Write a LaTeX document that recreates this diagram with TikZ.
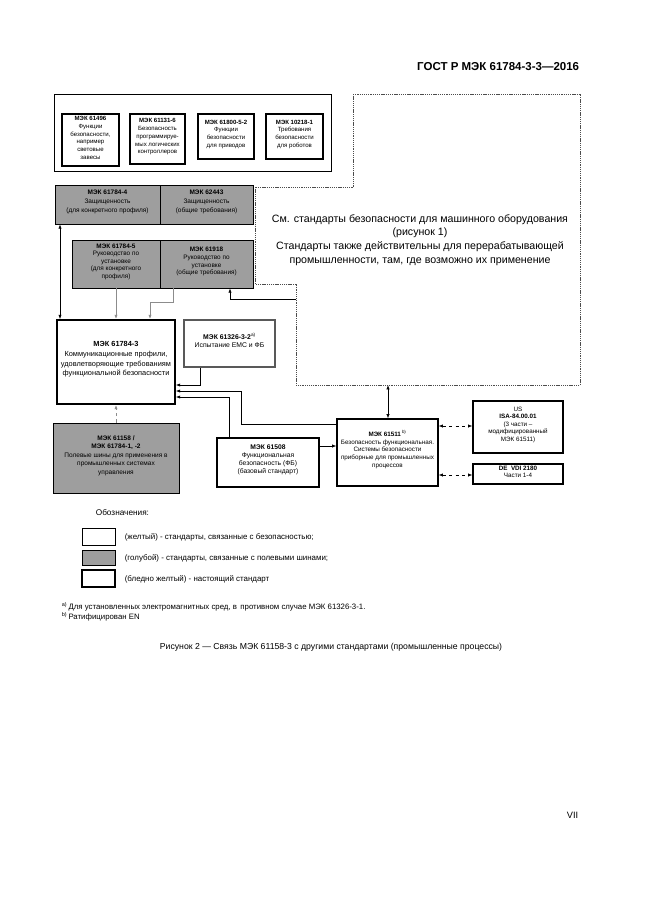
\documentclass[tikz,border=0pt]{standalone}
\usepackage{fontspec}
\setmainfont{Liberation Sans}
\usetikzlibrary{arrows.meta,fit,calc}
\definecolor{fb}{gray}{0.62}
\newcommand\fsz[2]{\fontsize{#1}{#2}\selectfont}
\begin{document}
\begin{tikzpicture}[x=0.9215pt,y=-0.9215pt,
  box/.style={draw,inner sep=0pt,align=center,line width=0.6pt},
  topbox/.style={box,line width=1.1pt,font=\fsz{5.6}{7.2}},
  fbbox/.style={box,fill=fb,font=\fsz{6}{8.2}},
  mainbox/.style={box,line width=1.6pt,font=\fsz{6.8}{8.8}},
  smallbox/.style={box,line width=1pt,font=\fsz{5.8}{7}},
  dashreg/.style={draw=black!70,line width=0.5pt,dash pattern=on 1.2pt off 0.8pt},
  conn/.style={line width=0.6pt},
  gconn/.style={line width=0.8pt,draw=black!45},
  tip/.style={-{Latex[length=4pt,width=3pt]}},
  btip/.style={{Latex[length=4pt,width=3pt]}-{Latex[length=4pt,width=3pt]}},
  legtxt/.style={anchor=west,font=\fsz{7.3}{8.5}},
]
\useasboundingbox[fill=white] (0,0) rectangle (646,913);

% header and page number
\node[anchor=east,font=\bfseries\fsz{10.6}{12}] (hdr) at (583,67) {ГОСТ Р МЭК 61784-3-3—2016};
\node[anchor=east,font=\fsz{8.5}{10}] (pg) at (582,815) {VII};

% top group
\node[box,line width=0.8pt,fit={(54,94)(331,171)}] (topgrp) {};
\node[topbox,fit={(62,114)(119,166)}] (t1) {\textbf{МЭК 61496}\\Функции\\безопасности,\\например\\световые\\завесы};
\node[topbox,fit={(130,114)(185,164)}] (t2) {\textbf{МЭК 61131-6}\\Безопасность\\программируе-\\мых логических\\контроллеров};
\node[topbox,fit={(198,114)(254,159)}] (t3) {\textbf{МЭК 61800-5-2}\\Функции\\безопасности\\для приводов};
\node[topbox,fit={(266,114)(323,159)}] (t4) {\textbf{МЭК 10218-1}\\Требования\\безопасности\\для роботов};

% dashed region
\draw[dashreg] (353,94) -- (580,94) -- (580,385) -- (296,385) -- (296,284) -- (255,284) -- (255,187) -- (353,187) -- cycle;
\node[align=center,font=\fsz{9.8}{12.6}] (see) at (420,240) {См. стандарты безопасности для машинного оборудования\\(рисунок 1)\\Стандарты также действительны для перерабатывающей\\промышленности, там, где возможно их применение};
\coordinate (dregL) at (296,299);
\coordinate (dregB) at (388,385);

% field-bus boxes
\node[fbbox,fit={(55,185)(160,224)}] (m4l) {\textbf{МЭК 61784-4}\\Защищенность\\(для конкретного профиля)};
\node[fbbox,fit={(160,185)(253,224)}] (m4r) {\textbf{МЭК 62443}\\Защищенность\\(общие требования)};
\node[fbbox,fit={(72,240)(160,288)},font=\fsz{5.9}{7}] (m5l) {\textbf{МЭК 61784-5}\\Руководство по\\установке\\(для конкретного\\профиля)};
\node[fbbox,fit={(160,240)(253,288)},font=\fsz{5.9}{7}] (m5r) {\textbf{МЭК 61918}\\Руководство по\\установке\\(общие требования)};

% main
\node[mainbox,fit={(57,320)(175,404)}] (main) {\textbf{МЭК 61784-3}\\Коммуникационные профили,\\удовлетворяющие требованиям\\функциональной безопасности\\[8pt]};
\node[smallbox,draw=black!65,line width=1.2pt,fit={(184,320)(275,367)},font=\fsz{6.3}{8}] (emc) {\textbf{МЭК 61326-3-2}\textsuperscript{a)}\\Испытание ЕМС и ФБ};

\node[fbbox,fit={(53,423)(179,493)},font=\fsz{6}{7.8}] (fb58) {\textbf{МЭК 61158 /}\\\textbf{МЭК 61784-1, -2}\\Полевые шины для применения в\\промышленных системах\\управления};

\node[smallbox,fit={(217,438)(319,487)},font=\fsz{6.2}{7.4}] (s08) {\textbf{МЭК 61508}\\Функциональная\\безопасность (ФБ)\\(базовый стандарт)\\[3pt]};
\node[smallbox,fit={(337,419)(438,486)}] (s11) {\textbf{МЭК 61511}\,\textsuperscript{b)}\\Безопасность функциональная.\\Системы безопасности\\приборные для промышленных\\процессов\\[6pt]};
\node[smallbox,fit={(473,401)(563,453)}] (us) {US\\\textbf{ISA-84.00.01}\\(3 части –\\модифицированный\\МЭК 61511)};
\node[smallbox,fit={(473,464)(563,484)}] (de) {\textbf{DE\ \ VDI 2180}\\Части 1-4};

% connectors
\coordinate (xa) at (60,0);
\coordinate (xb) at (116,0);
\draw[conn,btip] (m4l.south -| xa) -- (main.north -| xa);
\draw[gconn,tip] (m5l.south -| xb) -- (main.north -| xb);
\draw[gconn,tip] (m5r.south -| 173,0) -- (173,302) -- (150,302) -- (main.north -| 150,0);
\draw[conn,tip] (dregL) -- (230,299) -- (m5r.south -| 230,0);
\draw[conn,tip] (emc.south -| 200,0) -- (200,385) -- (main.east |- 0,385);
\draw[conn,tip] (s11.west |- 0,424) -- (241,424) -- (241,391) -- (main.east |- 0,391);
\draw[conn,tip] (s08.north -| 229,0) -- (229,397) -- (main.east |- 0,397);
\draw[gconn,dashed,tip] (fb58.north -| xb) -- (main.south -| xb);
\draw[conn,btip] (dregB) -- (s11.north -| dregB);
\draw[conn,tip] (s08.east |- 0,446) -- (s11.west |- 0,446);
\draw[conn,btip,dashed] (s11.east |- 0,426) -- (us.west |- 0,426);
\draw[conn,btip,dashed] (s11.east |- 0,475) -- (de.west |- 0,475);

% legend
\node[anchor=west,font=\fsz{7.6}{8.5}] (legh) at (92,513) {Обозначения:};
\node[box,line width=0.9pt,fit={(82,528)(115,545)}] (l1) {};
\node[box,fill=fb,fit={(82,550)(115,565)}] (l2) {};
\node[box,line width=1.4pt,fit={(82,570)(115,587)}] (l3) {};
\node[legtxt] (l1t) at (121,537) {(желтый) - стандарты, связанные с безопасностью;};
\node[legtxt] (l2t) at (121,558) {(голубой) - стандарты, связанные с полевыми шинами;};
\node[legtxt] (l3t) at (121,579) {(бледно желтый) - настоящий стандарт};

% footnotes
\node[anchor=west,font=\fsz{7.2}{8}] (fn1) at (58,607) {\textsuperscript{a)}\,Для установленных электромагнитных сред, в\, противном случае МЭК 61326-3-1.};
\node[anchor=west,font=\fsz{7.2}{8}] (fn2) at (58,617) {\textsuperscript{b)}\,Ратифицирован EN};

% caption
\node[font=\fsz{8}{10}] (cap) at (331,647) {Рисунок 2 — Связь МЭК 61158-3 с другими стандартами (промышленные процессы)};
\end{tikzpicture}
\end{document}
